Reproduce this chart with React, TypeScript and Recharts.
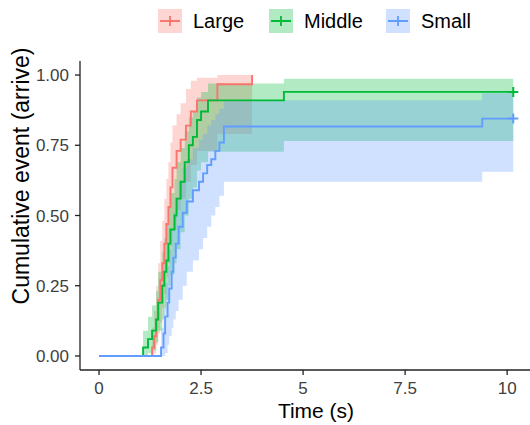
import React from 'react';
import { ComposedChart, Area, Line, XAxis, YAxis, Label } from 'recharts';

const FONT = '"Liberation Sans", Arial, Helvetica, sans-serif';

// Kaplan-Meier style step data
const largeTime = [0, 1.3, 1.35, 1.4, 1.45, 1.5, 1.55, 1.6, 1.65, 1.7, 1.75, 1.8, 1.9, 2.0, 2.13, 2.25, 2.4, 2.9, 3.75];
const largeEst = [0, 0.03, 0.07, 0.13, 0.2, 0.27, 0.33, 0.4, 0.47, 0.53, 0.6, 0.67, 0.73, 0.77, 0.82, 0.87, 0.91, 0.967, 1.0];
const largeLower = [0, 0, 0.01, 0.04, 0.08, 0.12, 0.17, 0.22, 0.28, 0.33, 0.39, 0.45, 0.52, 0.56, 0.62, 0.68, 0.73, 0.79, 0.79];
const largeUpper = [0, 0.1, 0.16, 0.25, 0.33, 0.41, 0.48, 0.56, 0.63, 0.69, 0.76, 0.82, 0.86, 0.9, 0.95, 0.98, 0.99, 1.0, 1.0];

const middleTime = [0, 1.08, 1.2, 1.3, 1.4, 1.45, 1.55, 1.6, 1.65, 1.7, 1.75, 1.85, 1.9, 2.0, 2.1, 2.2, 2.3, 2.4, 2.5, 2.67, 4.53, 10.15];
const middleEst = [0, 0.03, 0.06, 0.09, 0.13, 0.19, 0.25, 0.3, 0.34, 0.4, 0.45, 0.5, 0.56, 0.62, 0.69, 0.75, 0.78, 0.84, 0.87, 0.91, 0.94, 0.94];
const middleLower = [0, 0, 0.01, 0.02, 0.05, 0.09, 0.13, 0.17, 0.2, 0.25, 0.29, 0.33, 0.38, 0.44, 0.5, 0.56, 0.6, 0.66, 0.69, 0.727, 0.765, 0.765];
const middleUpper = [0, 0.09, 0.14, 0.18, 0.23, 0.3, 0.37, 0.42, 0.47, 0.53, 0.58, 0.63, 0.69, 0.74, 0.8, 0.85, 0.87, 0.92, 0.94, 0.97, 0.987, 0.987];

const smallTime = [0, 1.52, 1.58, 1.62, 1.68, 1.72, 1.78, 1.82, 1.88, 1.95, 2.05, 2.15, 2.3, 2.45, 2.55, 2.65, 2.75, 2.85, 2.95, 3.06, 9.39, 10.15];
const smallEst = [0, 0.03, 0.08, 0.14, 0.19, 0.24, 0.3, 0.35, 0.4, 0.46, 0.51, 0.55, 0.59, 0.62, 0.65, 0.68, 0.7, 0.73, 0.76, 0.817, 0.845, 0.845];
const smallLower = [0, 0, 0, 0.01, 0.04, 0.07, 0.1, 0.13, 0.16, 0.2, 0.25, 0.3, 0.34, 0.38, 0.42, 0.46, 0.5, 0.53, 0.57, 0.62, 0.656, 0.656];
const smallUpper = [0, 0.1, 0.17, 0.26, 0.32, 0.38, 0.45, 0.51, 0.56, 0.62, 0.67, 0.7, 0.74, 0.77, 0.79, 0.82, 0.84, 0.86, 0.88, 0.91, 0.935, 0.935];

const xTicks = [0, 2.5, 5, 7.5, 10];
const yTicks = [0, 0.25, 0.5, 0.75, 1];

const build = (time: number[], est: number[], lo: number[], hi: number[]) =>
  time.map((t, i) => ({ t, est: est[i], band: [lo[i], hi[i]] }));

const series = [
  { name: 'Large', color: '#F8766D', data: build(largeTime, largeEst, largeLower, largeUpper), censored: false },
  { name: 'Middle', color: '#00BA38', data: build(middleTime, middleEst, middleLower, middleUpper), censored: true },
  { name: 'Small', color: '#619CFF', data: build(smallTime, smallEst, smallLower, smallUpper), censored: true },
];

const censorDot = (color: string, last: number, show: boolean) => (props: any) => {
  const { cx, cy, index } = props;
  if (!show || index !== last || cx == null) return <g key={`d-${index}`} />;
  return (
    <path
      key={`d-${index}`}
      d={`M${cx - 5},${cy}H${cx + 5}M${cx},${cy - 5}V${cy + 5}`}
      stroke={color}
      strokeWidth={2}
      fill="none"
    />
  );
};

function LegendItem({ x, color, name }: { x: number; color: string; name: string }) {
  return (
    <div style={{ position: 'absolute', left: x, top: 9, height: 24, display: 'flex', alignItems: 'center' }}>
      <svg width={24} height={24} style={{ display: 'block' }}>
        <rect x={0} y={0} width={24} height={24} fill={color} fillOpacity={0.3} />
        <path d="M2,12H22M12,7V17" stroke={color} strokeWidth={1.8} />
      </svg>
      <span style={{ marginLeft: 11, fontSize: 20, color: '#000', lineHeight: '24px' }}>{name}</span>
    </div>
  );
}

const legendX = [158, 269, 386];

export default function App() {
  return (
    <div style={{ position: 'absolute', left: 0, top: 0, width: 530, height: 425, background: '#fff', fontFamily: FONT }}>
      {series.map((s, i) => (
        <LegendItem key={s.name} x={legendX[i]} color={s.color} name={s.name} />
      ))}
      <ComposedChart width={530} height={425} margin={{ top: 61, right: 0, bottom: 0, left: 0 }}>
        <XAxis
          type="number"
          dataKey="t"
          domain={[-0.466, 10.56]}
          allowDataOverflow
          ticks={xTicks}
          height={55}
          tickSize={5}
          tickMargin={7}
          axisLine={{ stroke: '#222', strokeWidth: 1.3 }}
          tickLine={{ stroke: '#222', strokeWidth: 1.3 }}
          tick={{ fill: '#404040', fontSize: 17, fontFamily: FONT }}
        >
          <Label value="Time (s)" position="insideBottom" offset={7} dx={11} style={{ fontSize: 21, fill: '#000', fontFamily: FONT }} />
        </XAxis>
        <YAxis
          type="number"
          domain={[-0.05, 1.05]}
          allowDataOverflow
          ticks={yTicks}
          width={80}
          tickSize={5}
          tickMargin={6}
          tickFormatter={(v: number) => v.toFixed(2)}
          axisLine={{ stroke: '#222', strokeWidth: 1.3 }}
          tickLine={{ stroke: '#222', strokeWidth: 1.3 }}
          tick={{ fill: '#404040', fontSize: 17, fontFamily: FONT }}
        >
          <Label
            content={() => (
              <text
                x={0}
                y={0}
                transform="translate(29,176) rotate(-90)"
                textAnchor="middle"
                style={{ fontSize: 23, fill: '#000', fontFamily: FONT }}
              >
                Cumulative event (arrive)
              </text>
            )}
          />
        </YAxis>
        {series.map((s) => (
          <Area
            key={`band-${s.name}`}
            data={s.data}
            dataKey="band"
            type="stepAfter"
            stroke="none"
            fill={s.color}
            fillOpacity={0.3}
            isAnimationActive={false}
            activeDot={false}
          />
        ))}
        {series.map((s) => (
          <Line
            key={`line-${s.name}`}
            data={s.data}
            dataKey="est"
            type="stepAfter"
            stroke={s.color}
            strokeWidth={1.9}
            dot={censorDot(s.color, s.data.length - 1, s.censored)}
            activeDot={false}
            isAnimationActive={false}
          />
        ))}
      </ComposedChart>
    </div>
  );
}
